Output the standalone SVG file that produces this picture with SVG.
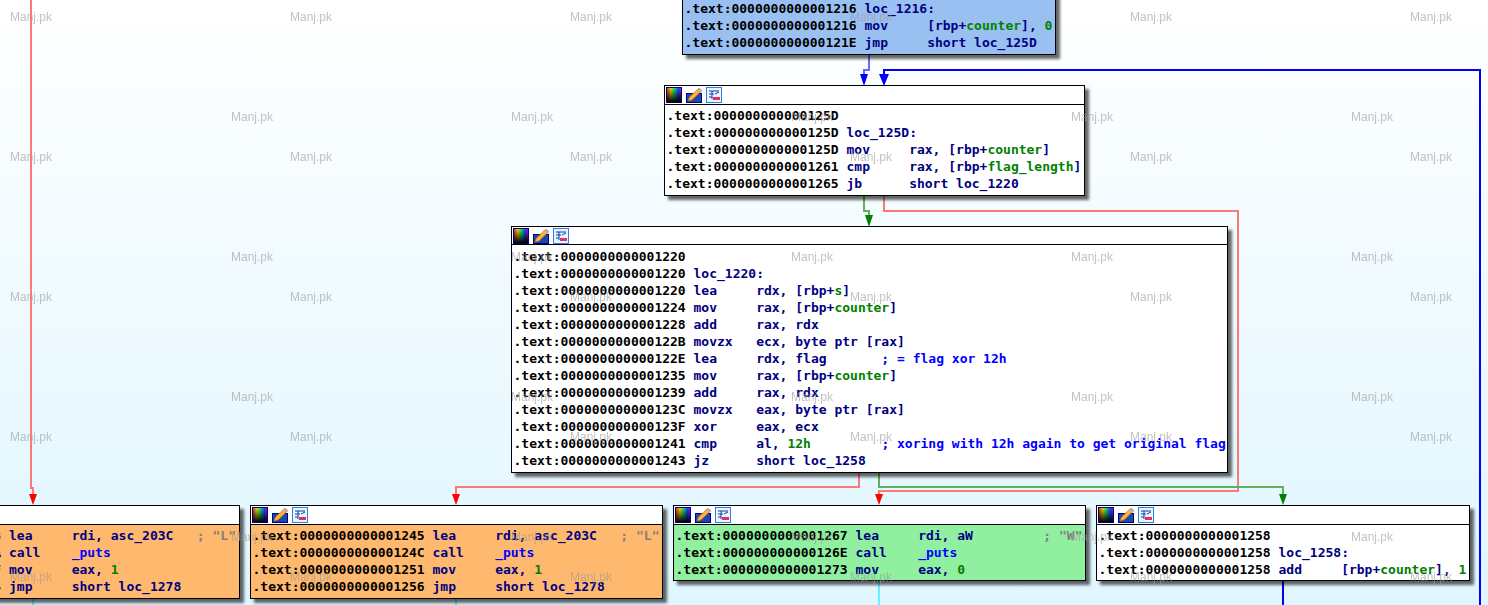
<svg xmlns="http://www.w3.org/2000/svg" width="1488" height="605" viewBox="0 0 1488 605">
<style>
text{white-space:pre}
.t{font-family:"DejaVu Sans Mono",monospace;font-weight:bold;font-size:13px;fill:#000}
.m{fill:#000080}.g{fill:#008000}.b{fill:#0000ff}.c{fill:#808080}
.box{stroke:#000;stroke-width:1;filter:url(#sh)}
.sep{stroke:#000;stroke-width:1}
.wh{fill:#fff}.or{fill:#ffb96e}.gr{fill:#90f0a0}.bl{fill:#9ac0f2}
.w{font-family:"Liberation Sans",Arial,sans-serif;font-size:12px;fill:#999;opacity:.6}
.l{fill:none;stroke-width:2}
.lr{stroke:#ff7878}.lg{stroke:#60b060}.lb{stroke:#6868ff}.lB{stroke:#0000ff}.lc{stroke:#66f0ff}
</style>
<defs>
<linearGradient id="bg" x1="0" y1="0" x2="0" y2="1"><stop offset="0" stop-color="#fff"/><stop offset="1" stop-color="#e0f6ff"/></linearGradient>
<linearGradient id="hue" x1="0" y1="0" x2="1" y2="0"><stop offset="0" stop-color="#ff2020"/><stop offset=".3" stop-color="#e8e000"/><stop offset=".55" stop-color="#00e080"/><stop offset=".8" stop-color="#2040ff"/><stop offset="1" stop-color="#e000e0"/></linearGradient>
<linearGradient id="dark" x1="0" y1="0" x2="0" y2="1"><stop offset="0" stop-color="#000" stop-opacity="0"/><stop offset="1" stop-color="#000"/></linearGradient>
<filter id="sh" x="-5%" y="-5%" width="110%" height="115%"><feDropShadow dx="4" dy="4" stdDeviation="1.5" flood-color="#000" flood-opacity=".6"/></filter>
<symbol id="icons" width="58" height="17" viewBox="0 0 58 17" overflow="visible">
<rect x=".5" y=".5" width="15" height="15" fill="url(#hue)" stroke="#000080"/><rect x="1" y="1" width="14" height="14" fill="url(#dark)"/>
<rect x="20.5" y="6.5" width="15" height="9" fill="#1848b0" stroke="#000080"/><path d="M23.5 10L32.5 1.5L35.5 4L26 13L22 14Z" fill="#ffb040" stroke="#c07000" stroke-width=".7"/><path d="M32.5 1.5L35.5 4" stroke="#90b0f0" stroke-width="2"/>
<rect x="40.5" y=".5" width="15" height="15" fill="#e8f4ff" stroke="#3080e0"/><path d="M43 4H53M43 7H48M49 7L53 5M43 10H46M46 4V12" stroke="#1040a0" fill="none"/><rect x="47" y="10" width="7" height="3" fill="#e03060"/>
</symbol>
</defs>
<rect width="1488" height="605" fill="url(#bg)"/>
<g id="connectors">
<path class="l lr" d="M31 0V488H33V496"/>
<path class="l lb" d="M869 54V70H864V76"/>
<path class="l lB" d="M884 76V70H1480V605"/>
<path class="l lg" d="M864 195V211H869V217"/>
<path class="l lr" d="M884 195V211H1238V491H879V496"/>
<path class="l lr" d="M859 472V487H456V496"/>
<path class="l lg" d="M879 472V487H1283V496"/>
<path class="l lB" d="M1283 580V605"/>
<path class="l lc" d="M33 598V605M456 598V605M879 580V605"/>
<path fill="#0000ff" d="M860 74H868L864 86ZM879 74H889L884 86Z"/>
<path fill="#008000" d="M865 215H873L869 227Z"/>
<path fill="#ff0000" d="M29 494H37L33 505ZM452 494H460L456 505ZM875 494H883L879 505Z"/>
<path fill="#008000" d="M1279 494H1287L1283 505Z"/>
</g>
<g id="node-1216">
<rect class="box bl" x="682.5" y="-20.5" width="373" height="75"/>
<text class="t" x="684.5" y="13">.text:0000000000001216 <tspan class="m">loc_1216:</tspan></text>
<text class="t" x="684.5" y="30">.text:0000000000001216 <tspan class="m">mov     [rbp+</tspan><tspan class="g">counter</tspan><tspan class="m">], </tspan><tspan class="g">0</tspan></text>
<text class="t" x="684.5" y="47">.text:000000000000121E <tspan class="m">jmp     short loc_125D</tspan></text>
</g>
<g id="node-125D">
<rect class="box wh" x="664.5" y="85.5" width="420" height="110"/>
<path class="sep" d="M665 104.5H1084"/>
<use href="#icons" x="666" y="87"/>
<text class="t" x="666.5" y="120">.text:000000000000125D</text>
<text class="t" x="666.5" y="137">.text:000000000000125D <tspan class="m">loc_125D:</tspan></text>
<text class="t" x="666.5" y="154">.text:000000000000125D <tspan class="m">mov     rax, [rbp+</tspan><tspan class="g">counter</tspan><tspan class="m">]</tspan></text>
<text class="t" x="666.5" y="171">.text:0000000000001261 <tspan class="m">cmp     rax, [rbp+</tspan><tspan class="g">flag_length</tspan><tspan class="m">]</tspan></text>
<text class="t" x="666.5" y="188">.text:0000000000001265 <tspan class="m">jb      short loc_1220</tspan></text>
</g>
<g id="node-1220">
<rect class="box wh" x="511.5" y="226.5" width="716" height="246"/>
<path class="sep" d="M512 244.5H1227"/>
<use href="#icons" x="513" y="228"/>
<text class="t" x="513.5" y="261">.text:0000000000001220</text>
<text class="t" x="513.5" y="278">.text:0000000000001220 <tspan class="m">loc_1220:</tspan></text>
<text class="t" x="513.5" y="295">.text:0000000000001220 <tspan class="m">lea     rdx, [rbp+</tspan><tspan class="g">s</tspan><tspan class="m">]</tspan></text>
<text class="t" x="513.5" y="312">.text:0000000000001224 <tspan class="m">mov     rax, [rbp+</tspan><tspan class="g">counter</tspan><tspan class="m">]</tspan></text>
<text class="t" x="513.5" y="329">.text:0000000000001228 <tspan class="m">add     rax, rdx</tspan></text>
<text class="t" x="513.5" y="346">.text:000000000000122B <tspan class="m">movzx   ecx, byte ptr [rax]</tspan></text>
<text class="t" x="513.5" y="363">.text:000000000000122E <tspan class="m">lea     rdx, flag       </tspan><tspan class="b">; = flag xor 12h</tspan></text>
<text class="t" x="513.5" y="380">.text:0000000000001235 <tspan class="m">mov     rax, [rbp+</tspan><tspan class="g">counter</tspan><tspan class="m">]</tspan></text>
<text class="t" x="513.5" y="397">.text:0000000000001239 <tspan class="m">add     rax, rdx</tspan></text>
<text class="t" x="513.5" y="414">.text:000000000000123C <tspan class="m">movzx   eax, byte ptr [rax]</tspan></text>
<text class="t" x="513.5" y="431">.text:000000000000123F <tspan class="m">xor     eax, ecx</tspan></text>
<text class="t" x="513.5" y="448">.text:0000000000001241 <tspan class="m">cmp     al, </tspan><tspan class="g">12h</tspan><tspan class="m">         </tspan><tspan class="b">; xoring with 12h again to get original flag</tspan></text>
<text class="t" x="513.5" y="465">.text:0000000000001243 <tspan class="m">jz      short loc_1258</tspan></text>
</g>
<g id="node-1203">
<rect class="box or" x="-180.5" y="505.5" width="420" height="93"/>
<rect class="wh" x="-180" y="506" width="419" height="18"/>
<path class="sep" d="M-180 524.5H239"/>
<text class="t" x="-171" y="540">.text:0000000000001203 <tspan class="m">lea     rdi, asc_203C   </tspan><tspan class="c">; "L"</tspan></text>
<text class="t" x="-171" y="557">.text:000000000000120A <tspan class="m">call    </tspan><tspan class="b">_puts</tspan></text>
<text class="t" x="-171" y="574">.text:000000000000120F <tspan class="m">mov     eax, </tspan><tspan class="g">1</tspan></text>
<text class="t" x="-171" y="591">.text:0000000000001214 <tspan class="m">jmp     short loc_1278</tspan></text>
</g>
<g id="node-1245">
<rect class="box or" x="250.5" y="505.5" width="412" height="93"/>
<rect class="wh" x="251" y="506" width="411" height="18"/>
<path class="sep" d="M251 524.5H662"/>
<use href="#icons" x="252" y="507"/>
<text class="t" x="252.5" y="540">.text:0000000000001245 <tspan class="m">lea     rdi, asc_203C   </tspan><tspan class="c">; "L"</tspan></text>
<text class="t" x="252.5" y="557">.text:000000000000124C <tspan class="m">call    </tspan><tspan class="b">_puts</tspan></text>
<text class="t" x="252.5" y="574">.text:0000000000001251 <tspan class="m">mov     eax, </tspan><tspan class="g">1</tspan></text>
<text class="t" x="252.5" y="591">.text:0000000000001256 <tspan class="m">jmp     short loc_1278</tspan></text>
</g>
<g id="node-1267">
<rect class="box gr" x="673.5" y="505.5" width="412" height="75"/>
<rect class="wh" x="674" y="506" width="411" height="18"/>
<path class="sep" d="M674 524.5H1085"/>
<use href="#icons" x="675" y="507"/>
<text class="t" x="675.5" y="540">.text:0000000000001267 <tspan class="m">lea     rdi, aW         </tspan><tspan class="c">; "W"</tspan></text>
<text class="t" x="675.5" y="557">.text:000000000000126E <tspan class="m">call    </tspan><tspan class="b">_puts</tspan></text>
<text class="t" x="675.5" y="574">.text:0000000000001273 <tspan class="m">mov     eax, </tspan><tspan class="g">0</tspan></text>
</g>
<g id="node-1258">
<rect class="box wh" x="1096.5" y="505.5" width="373" height="75"/>
<path class="sep" d="M1097 524.5H1469"/>
<use href="#icons" x="1098" y="507"/>
<text class="t" x="1098.5" y="540">.text:0000000000001258</text>
<text class="t" x="1098.5" y="557">.text:0000000000001258 <tspan class="m">loc_1258:</tspan></text>
<text class="t" x="1098.5" y="574">.text:0000000000001258 <tspan class="m">add     [rbp+</tspan><tspan class="g">counter</tspan><tspan class="m">], </tspan><tspan class="g">1</tspan></text>
</g>
<g id="watermarks" class="w">
<text x="10" y="21">Manj.pk</text><text x="290" y="21">Manj.pk</text><text x="570" y="21">Manj.pk</text><text x="850" y="21">Manj.pk</text><text x="1130" y="21">Manj.pk</text><text x="1410" y="21">Manj.pk</text>
<text x="231" y="121">Manj.pk</text><text x="511" y="121">Manj.pk</text><text x="791" y="121">Manj.pk</text><text x="1071" y="121">Manj.pk</text><text x="1351" y="121">Manj.pk</text>
<text x="10" y="161">Manj.pk</text><text x="290" y="161">Manj.pk</text><text x="570" y="161">Manj.pk</text><text x="850" y="161">Manj.pk</text><text x="1130" y="161">Manj.pk</text><text x="1410" y="161">Manj.pk</text>
<text x="231" y="261">Manj.pk</text><text x="511" y="261">Manj.pk</text><text x="791" y="261">Manj.pk</text><text x="1071" y="261">Manj.pk</text><text x="1351" y="261">Manj.pk</text>
<text x="10" y="301">Manj.pk</text><text x="290" y="301">Manj.pk</text><text x="570" y="301">Manj.pk</text><text x="850" y="301">Manj.pk</text><text x="1130" y="301">Manj.pk</text><text x="1410" y="301">Manj.pk</text>
<text x="231" y="401">Manj.pk</text><text x="511" y="401">Manj.pk</text><text x="791" y="401">Manj.pk</text><text x="1071" y="401">Manj.pk</text><text x="1351" y="401">Manj.pk</text>
<text x="10" y="441">Manj.pk</text><text x="290" y="441">Manj.pk</text><text x="570" y="441">Manj.pk</text><text x="850" y="441">Manj.pk</text><text x="1130" y="441">Manj.pk</text><text x="1410" y="441">Manj.pk</text>
<text x="231" y="541">Manj.pk</text><text x="511" y="541">Manj.pk</text><text x="791" y="541">Manj.pk</text><text x="1071" y="541">Manj.pk</text><text x="1351" y="541">Manj.pk</text>
<text x="10" y="581">Manj.pk</text><text x="290" y="581">Manj.pk</text><text x="570" y="581">Manj.pk</text><text x="850" y="581">Manj.pk</text><text x="1130" y="581">Manj.pk</text><text x="1410" y="581">Manj.pk</text>
</g>
</svg>
